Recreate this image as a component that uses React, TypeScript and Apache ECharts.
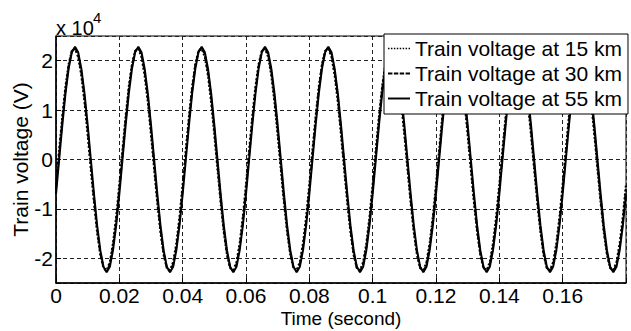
import React, { useEffect, useRef } from "react";
import * as echarts from "echarts";

// Sample times (second)
const time = [
  0.000, 0.001, 0.002, 0.003, 0.004, 0.005, 0.006, 0.007, 0.008, 0.009, 0.010, 0.011, 0.012, 0.013, 0.014, 0.015, 0.016, 0.017, 0.018, 0.019,
  0.020, 0.021, 0.022, 0.023, 0.024, 0.025, 0.026, 0.027, 0.028, 0.029, 0.030, 0.031, 0.032, 0.033, 0.034, 0.035, 0.036, 0.037, 0.038, 0.039,
  0.040, 0.041, 0.042, 0.043, 0.044, 0.045, 0.046, 0.047, 0.048, 0.049, 0.050, 0.051, 0.052, 0.053, 0.054, 0.055, 0.056, 0.057, 0.058, 0.059,
  0.060, 0.061, 0.062, 0.063, 0.064, 0.065, 0.066, 0.067, 0.068, 0.069, 0.070, 0.071, 0.072, 0.073, 0.074, 0.075, 0.076, 0.077, 0.078, 0.079,
  0.080, 0.081, 0.082, 0.083, 0.084, 0.085, 0.086, 0.087, 0.088, 0.089, 0.090, 0.091, 0.092, 0.093, 0.094, 0.095, 0.096, 0.097, 0.098, 0.099,
  0.100, 0.101, 0.102, 0.103, 0.104, 0.105, 0.106, 0.107, 0.108, 0.109, 0.110, 0.111, 0.112, 0.113, 0.114, 0.115, 0.116, 0.117, 0.118, 0.119,
  0.120, 0.121, 0.122, 0.123, 0.124, 0.125, 0.126, 0.127, 0.128, 0.129, 0.130, 0.131, 0.132, 0.133, 0.134, 0.135, 0.136, 0.137, 0.138, 0.139,
  0.140, 0.141, 0.142, 0.143, 0.144, 0.145, 0.146, 0.147, 0.148, 0.149, 0.150, 0.151, 0.152, 0.153, 0.154, 0.155, 0.156, 0.157, 0.158, 0.159,
  0.160, 0.161, 0.162, 0.163, 0.164, 0.165, 0.166, 0.167, 0.168, 0.169, 0.170, 0.171, 0.172, 0.173, 0.174, 0.175, 0.176, 0.177, 0.178, 0.179,
  0.180,
];

// Train voltage at 15 km (V)
const v15km = [
  -4900, 2100, 8900, 14900, 19400, 22000, 22400, 20700, 16900, 11500, 4900, -2100, -8900, -14900, -19400, -22000, -22400, -20700, -16900, -11500,
  -4900, 2100, 8900, 14900, 19400, 22000, 22400, 20700, 16900, 11500, 4900, -2100, -8900, -14900, -19400, -22000, -22400, -20700, -16900, -11500,
  -4900, 2100, 8900, 14900, 19400, 22000, 22400, 20700, 16900, 11500, 4900, -2100, -8900, -14900, -19400, -22000, -22400, -20700, -16900, -11500,
  -4900, 2100, 8900, 14900, 19400, 22000, 22400, 20700, 16900, 11500, 4900, -2100, -8900, -14900, -19400, -22000, -22400, -20700, -16900, -11500,
  -4900, 2100, 8900, 14900, 19400, 22000, 22400, 20700, 16900, 11500, 4900, -2100, -8900, -14900, -19400, -22000, -22400, -20700, -16900, -11500,
  -4900, 2100, 8900, 14900, 19400, 22000, 22400, 20700, 16900, 11500, 4900, -2100, -8900, -14900, -19400, -22000, -22400, -20700, -16900, -11500,
  -4900, 2100, 8900, 14900, 19400, 22000, 22400, 20700, 16900, 11500, 4900, -2100, -8900, -14900, -19400, -22000, -22400, -20700, -16900, -11500,
  -4900, 2100, 8900, 14900, 19400, 22000, 22400, 20700, 16900, 11500, 4900, -2100, -8900, -14900, -19400, -22000, -22400, -20700, -16900, -11500,
  -4900, 2100, 8900, 14900, 19400, 22000, 22400, 20700, 16900, 11500, 4900, -2100, -8900, -14900, -19400, -22000, -22400, -20700, -16900, -11500,
  -4900,
];

// Train voltage at 30 km (V)
const v30km = [
  -6000, 1100, 8000, 14200, 19000, 21900, 22700, 21200, 17700, 12500, 6000, -1100, -8000, -14200, -19000, -21900, -22700, -21200, -17700, -12500,
  -6000, 1100, 8000, 14200, 19000, 21900, 22700, 21200, 17700, 12500, 6000, -1100, -8000, -14200, -19000, -21900, -22700, -21200, -17700, -12500,
  -6000, 1100, 8000, 14200, 19000, 21900, 22700, 21200, 17700, 12500, 6000, -1100, -8000, -14200, -19000, -21900, -22700, -21200, -17700, -12500,
  -6000, 1100, 8000, 14200, 19000, 21900, 22700, 21200, 17700, 12500, 6000, -1100, -8000, -14200, -19000, -21900, -22700, -21200, -17700, -12500,
  -6000, 1100, 8000, 14200, 19000, 21900, 22700, 21200, 17700, 12500, 6000, -1100, -8000, -14200, -19000, -21900, -22700, -21200, -17700, -12500,
  -6000, 1100, 8000, 14200, 19000, 21900, 22700, 21200, 17700, 12500, 6000, -1100, -8000, -14200, -19000, -21900, -22700, -21200, -17700, -12500,
  -6000, 1100, 8000, 14200, 19000, 21900, 22700, 21200, 17700, 12500, 6000, -1100, -8000, -14200, -19000, -21900, -22700, -21200, -17700, -12500,
  -6000, 1100, 8000, 14200, 19000, 21900, 22700, 21200, 17700, 12500, 6000, -1100, -8000, -14200, -19000, -21900, -22700, -21200, -17700, -12500,
  -6000, 1100, 8000, 14200, 19000, 21900, 22700, 21200, 17700, 12500, 6000, -1100, -8000, -14200, -19000, -21900, -22700, -21200, -17700, -12500,
  -6000,
];

// Train voltage at 55 km (V)
const v55km = [
  -7000, 0, 7000, 13400, 18400, 21700, 22800, 21700, 18400, 13400, 7000, 0, -7000, -13400, -18400, -21700, -22800, -21700, -18400, -13400,
  -7000, 0, 7000, 13400, 18400, 21700, 22800, 21700, 18400, 13400, 7000, 0, -7000, -13400, -18400, -21700, -22800, -21700, -18400, -13400,
  -7000, 0, 7000, 13400, 18400, 21700, 22800, 21700, 18400, 13400, 7000, 0, -7000, -13400, -18400, -21700, -22800, -21700, -18400, -13400,
  -7000, 0, 7000, 13400, 18400, 21700, 22800, 21700, 18400, 13400, 7000, 0, -7000, -13400, -18400, -21700, -22800, -21700, -18400, -13400,
  -7000, 0, 7000, 13400, 18400, 21700, 22800, 21700, 18400, 13400, 7000, 0, -7000, -13400, -18400, -21700, -22800, -21700, -18400, -13400,
  -7000, 0, 7000, 13400, 18400, 21700, 22800, 21700, 18400, 13400, 7000, 0, -7000, -13400, -18400, -21700, -22800, -21700, -18400, -13400,
  -7000, 0, 7000, 13400, 18400, 21700, 22800, 21700, 18400, 13400, 7000, 0, -7000, -13400, -18400, -21700, -22800, -21700, -18400, -13400,
  -7000, 0, 7000, 13400, 18400, 21700, 22800, 21700, 18400, 13400, 7000, 0, -7000, -13400, -18400, -21700, -22800, -21700, -18400, -13400,
  -7000, 0, 7000, 13400, 18400, 21700, 22800, 21700, 18400, 13400, 7000, 0, -7000, -13400, -18400, -21700, -22800, -21700, -18400, -13400,
  -7000,
];

const seriesNames = ["Train voltage at 15 km", "Train voltage at 30 km", "Train voltage at 55 km"];
const xTicks = [0, 0.02, 0.04, 0.06, 0.08, 0.1, 0.12, 0.14, 0.16];
const yTicks = [-2, -1, 0, 1, 2];

const FONT = "'Liberation Sans', Arial, Helvetica, sans-serif";
const FS = 21;

// legend line samples (styling only)
const ICON_DOTTED =
  "path://M0,0h1.5v1.5h-1.5z M3,0h1.5v1.5h-1.5z M6,0h1.5v1.5h-1.5z M9,0h1.5v1.5h-1.5z M12,0h1.5v1.5h-1.5z M15,0h1.5v1.5h-1.5z M18,0h1.5v1.5h-1.5z M21,0h1.5v1.5h-1.5z";
const ICON_DASHED = "path://M0,0h4.5v2h-4.5z M6,0h4.5v2h-4.5z M12,0h4.5v2h-4.5z M18,0h4.5v2h-4.5z";
const ICON_SOLID = "path://M0,0h22.5v2h-22.5z";

export default function App() {
  const ref = useRef<HTMLDivElement>(null);

  useEffect(() => {
    if (!ref.current) return;
    const chart = echarts.init(ref.current, null, { renderer: "svg" });
    const pair = (vals: number[]) => time.map((t, i) => [t, vals[i]]);
    const gridLine = { show: true, lineStyle: { color: "#222", type: [4, 3] as any, width: 1 } };

    chart.setOption({
      animation: false,
      backgroundColor: "#ffffff",
      textStyle: { fontFamily: FONT, color: "#000" },
      grid: {
        left: 56,
        right: 5,
        top: 36,
        bottom: 48,
        outerBoundsMode: "none",
        containLabel: false,
        show: true,
        borderColor: "#000",
        borderWidth: 1,
        backgroundColor: "transparent",
      },
      legend: {
        orient: "vertical",
        right: 3,
        top: 34,
        itemWidth: 22,
        itemHeight: 14,
        itemGap: 4,
        padding: [4, 6, 5, 4],
        backgroundColor: "#fff",
        borderColor: "#000",
        borderWidth: 1,
        borderRadius: 0,
        itemStyle: { color: "#000", borderWidth: 0 },
        textStyle: { fontSize: FS, color: "#000", fontFamily: FONT, lineHeight: 21 },
        data: [
          { name: seriesNames[0], icon: ICON_DOTTED },
          { name: seriesNames[1], icon: ICON_DASHED },
          { name: seriesNames[2], icon: ICON_SOLID },
        ],
      },
      graphic: [
        {
          type: "text",
          left: 56,
          top: 18,
          style: { text: "x 10", fontSize: 20, fontFamily: FONT, fill: "#000" },
        },
        {
          type: "text",
          left: 93,
          top: 10,
          style: { text: "4", fontSize: 15, fontFamily: FONT, fill: "#000" },
        },
      ],
      xAxis: {
        type: "value",
        min: 0,
        max: 0.18,
        interval: 0.02,
        name: "Time (second)",
        nameLocation: "middle",
        nameGap: 26,
        nameMoveOverlap: false,
        nameTextStyle: { fontSize: 19, color: "#000", fontFamily: FONT, lineHeight: 18 },
        axisLine: { show: true, onZero: false, lineStyle: { color: "#000", width: 1.5 } },
        axisTick: { show: true, inside: true, length: 5, lineStyle: { color: "#000" } },
        axisLabel: {
          fontSize: FS,
          lineHeight: 17,
          color: "#000",
          fontFamily: FONT,
          margin: 4,
          formatter: (v: number) => {
            const r = Math.round(v * 100) / 100;
            return xTicks.some((t) => Math.abs(t - r) < 1e-9) && v < 0.175 ? String(r) : "";
          },
        },
        splitLine: gridLine,
      },
      yAxis: {
        type: "value",
        min: -25000,
        max: 25000,
        splitNumber: 5,
        name: "Train voltage (V)",
        nameLocation: "middle",
        nameGap: 25,
        nameMoveOverlap: false,
        nameTextStyle: { fontSize: FS, color: "#000", fontFamily: FONT },
        axisLine: { show: true, onZero: false, lineStyle: { color: "#000", width: 1.5 } },
        axisTick: { show: true, inside: true, length: 5, lineStyle: { color: "#000" } },
        axisLabel: {
          fontSize: FS,
          color: "#000",
          fontFamily: FONT,
          margin: 3,
          formatter: (v: number) => {
            const r = Math.round(v / 1000) / 10;
            return yTicks.includes(r) ? String(r) : "";
          },
        },
        splitLine: gridLine,
      },
      series: [
        {
          name: seriesNames[0],
          type: "line",
          data: pair(v15km),
          symbol: "none",
          lineStyle: { color: "#000", width: 2, type: "dotted" },
          itemStyle: { color: "#000" },
        },
        {
          name: seriesNames[1],
          type: "line",
          data: pair(v30km),
          symbol: "none",
          lineStyle: { color: "#000", width: 2, type: [5, 3] },
          itemStyle: { color: "#000" },
        },
        {
          name: seriesNames[2],
          type: "line",
          data: pair(v55km),
          symbol: "none",
          lineStyle: { color: "#000", width: 2, type: "solid" },
          itemStyle: { color: "#000" },
        },
      ],
    });
    return () => chart.dispose();
  }, []);

  return (
    <div
      ref={ref}
      style={{ position: "fixed", left: 0, top: 0, width: 631, height: 331, background: "#fff" }}
    />
  );
}
